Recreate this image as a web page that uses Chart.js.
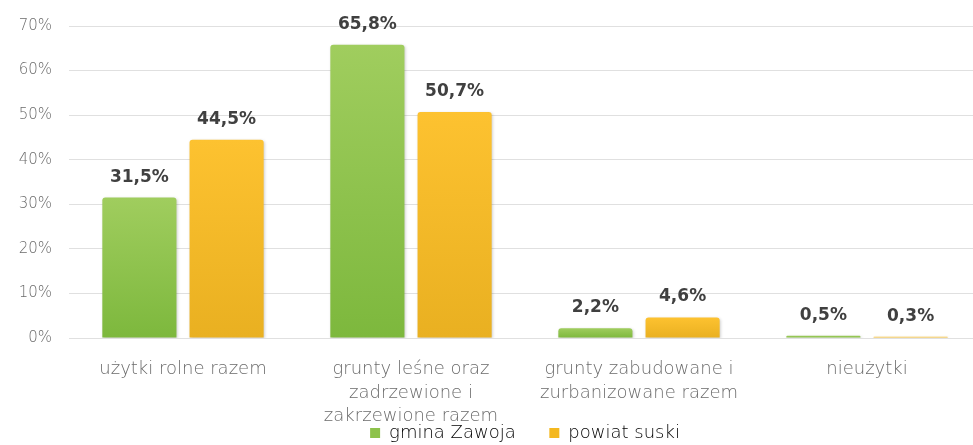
<!DOCTYPE html>
<html>
<head>
<meta charset="utf-8">
<script src="https://cdn.jsdelivr.net/npm/chart.js@4/dist/chart.umd.min.js"></script>
<style>
  html, body { margin: 0; padding: 0; background: #fff; overflow: hidden; }
  #wrap { width: 981px; height: 452px; }
</style>
</head>
<body>
<div id="wrap"><canvas id="wykres"></canvas></div>
<script>
// dane z wykresu (%)
const kategorie = [
    'użytki rolne razem',
    ['grunty leśne oraz', 'zadrzewione i', 'zakrzewione razem'],
    ['grunty zabudowane i', 'zurbanizowane razem'],
    'nieużytki'
];
const gminaZawoja = [31.5, 65.8, 2.2, 0.5];
const powiatSuski = [44.5, 50.7, 4.6, 0.3];
const etykietyOsiY = ['0%', '10%', '20%', '30%', '40%', '50%', '60%', '70%'];

const czcionka = '"DejaVu Sans", sans-serif';

// gradient dla kazdego slupka osobno
function gradient(jasny, ciemny, zapas) {
    return (c) => {
        const chart = c.chart;
        if (!chart.chartArea || c.raw === undefined) return zapas;
        const top = chart.scales.y.getPixelForValue(c.raw);
        const bottom = chart.scales.y.getPixelForValue(0);
        if (bottom - top < 1) return zapas;
        const g = chart.ctx.createLinearGradient(0, top, 0, bottom);
        g.addColorStop(0, jasny);
        g.addColorStop(1, ciemny);
        return g;
    };
}

// cien pod slupkami
const cien = {
    id: 'cien',
    beforeDatasetDraw(chart) {
        const ctx = chart.ctx;
        ctx.save();
        ctx.shadowColor = 'rgba(0,0,0,0.2)';
        ctx.shadowBlur = 3;
        ctx.shadowOffsetX = 1;
        ctx.shadowOffsetY = 1;
    },
    afterDatasetDraw(chart) {
        chart.ctx.restore();
    }
};

// trzecia linia etykiety wchodzi na legende - nie przycinac jej
const bezPrzyciecia = {
    id: 'bezPrzyciecia',
    afterLayout(chart) {
        chart.scales.x.bottom = chart.height;
    }
};

// wartosci nad slupkami
const wartosci = {
    id: 'wartosci',
    afterDatasetsDraw(chart) {
        const ctx = chart.ctx;
        ctx.save();
        ctx.font = 'bold 17px ' + czcionka;
        ctx.fillStyle = '#404040';
        ctx.textAlign = 'center';
        ctx.textBaseline = 'bottom';
        chart.data.datasets.forEach((ds, i) => {
            chart.getDatasetMeta(i).data.forEach((el, j) => {
                const tekst = ds.data[j].toFixed(1).replace('.', ',') + '%';
                ctx.fillText(tekst, el.x, el.y - 12);
            });
        });
        ctx.restore();
    }
};

const ctx = document.getElementById('wykres').getContext('2d');

new Chart(ctx, {
    type: 'bar',
    data: {
        labels: kategorie,
        datasets: [{
            label: 'gmina Zawoja',
            data: gminaZawoja,
            backgroundColor: gradient('#a0cd5e', '#7db83d', '#8dc24b'),
            borderRadius: 3,
            borderSkipped: 'bottom',
            barPercentage: 0.85,
            categoryPercentage: 0.765
        }, {
            label: 'powiat suski',
            data: powiatSuski,
            backgroundColor: gradient('#fdc230', '#e9b021', '#f4b81f'),
            borderRadius: 3,
            borderSkipped: 'bottom',
            barPercentage: 0.85,
            categoryPercentage: 0.765
        }]
    },
    options: {
        responsive: true,
        maintainAspectRatio: false,
        animation: false,
        devicePixelRatio: 1,
        layout: { padding: { top: 22, left: 0, right: 0, bottom: 0 } },
        plugins: {
            tooltip: { enabled: false },
            legend: {
                position: 'bottom',
                fullSize: false,
                labels: {
                    boxWidth: 10,
                    boxHeight: 10,
                    padding: 5,
                    color: '#6b6b6b',
                    font: { family: czcionka, size: 18, weight: 200 },
                    generateLabels: () => [
                        { text: 'gmina Zawoja     ', fillStyle: '#8dc24b', strokeStyle: '#8dc24b', lineWidth: 0, datasetIndex: 0 },
                        { text: 'powiat suski', fillStyle: '#f4b81f', strokeStyle: '#f4b81f', lineWidth: 0, datasetIndex: 1 }
                    ]
                }
            }
        },
        scales: {
            x: {
                grid: { display: false },
                border: { display: false },
                ticks: {
                    color: '#6b6b6b',
                    padding: 12,
                    maxRotation: 0,
                    autoSkip: false,
                    font: { family: czcionka, size: 18, weight: 200, lineHeight: 1.3 }
                },
                afterFit: (s) => { s.height = 81; }
            },
            y: {
                min: 0,
                max: 70,
                grid: { color: '#e0e0e0', drawTicks: false },
                border: { display: false },
                ticks: {
                    stepSize: 10,
                    padding: 17,
                    color: '#6b6b6b',
                    font: { family: czcionka, size: 15, weight: 200 },
                    callback: (v) => etykietyOsiY[Math.round(v / 10)]
                },
                afterFit: (s) => { s.width = 69; }
            }
        }
    },
    plugins: [cien, bezPrzyciecia, wartosci]
});
</script>
</body>
</html>
